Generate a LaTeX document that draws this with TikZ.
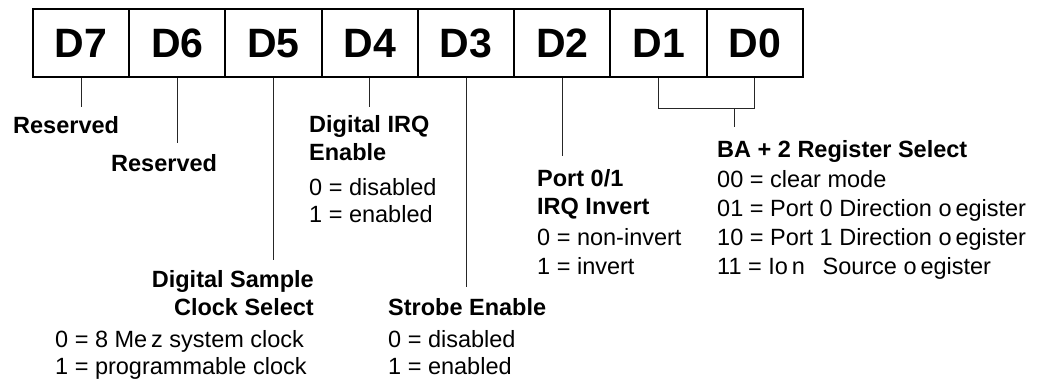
\documentclass[tikz,border=0pt]{standalone}
\usepackage{fontspec}
\setmainfont{Liberation Sans}
\usepackage{tikz}
\usetikzlibrary{positioning,calc}

\begin{document}
\begin{tikzpicture}[x=1pt, y=-1pt,
  bitcell/.style={draw, line width=2pt, minimum width=96.25pt, minimum height=68pt,
    inner sep=0pt, text height=29.5pt, text depth=0pt,
    font=\fontsize{41}{41}\selectfont\bfseries},
  leader/.style={line width=1pt, black!85},
  headtext/.style={inner sep=0pt, anchor=base west, align=left,
    font=\fontsize{23.5}{28}\selectfont\bfseries},
  valtext/.style={inner sep=0pt, anchor=base west, align=left,
    font=\fontsize{23.5}{27}\selectfont}]
\useasboundingbox (0,0) rectangle (1041,381);
% register cells
\foreach \b [count=\i from 0] in {7,6,5,4,3,2,1,0}
  \node[bitcell] (d\b) at (81.1+96.25*\i, 43) {D\b};
% leader ends
\coordinate (e7) at (d7.south |- 0,107);
\coordinate (e6) at (d6.south |- 0,143);
\coordinate (e5) at (d5.south |- 0,260);
\coordinate (e4) at (d4.south |- 0,107);
\coordinate (e3) at (d3.south |- 0,287);
\coordinate (e2) at (d2.south |- 0,156);
\coordinate (j1) at (d1.south |- 0,108);
\coordinate (j0) at (d0.south |- 0,108);
\coordinate (sel) at (734,127);
\draw[leader] (d7.south) -- (e7);
\draw[leader] (d6.south) -- (e6);
\draw[leader] (d5.south) -- (e5);
\draw[leader] (d4.south) -- (e4);
\draw[leader] (d3.south) -- (e3);
\draw[leader] (d2.south) -- (e2);
\draw[leader] (d1.south) -- (j1) -- (j0) -- (d0.south);
\draw[leader] (sel |- j0) -- (sel);
% bit descriptions (base = last line)
\node[headtext] (res7) at (13,133) {Reserved};
\node[headtext] (res6) at (111,171) {Reserved};
\node[headtext] (irqh) at (309,160) {Digital IRQ\\Enable};
\node[valtext]  (irqv) at (309,222) {0 = disabled\\1 = enabled};
\node[headtext, anchor=base east, align=right] (clkh) at (314,315) {Digital Sample\\Clock Select};
\node[valtext]  (clkv) at (55,374) {0 = 8 Me\,z system clock\\1 = programmable clock};
\node[headtext] (stbh) at (388,315) {Strobe Enable};
\node[valtext]  (stbv) at (388,374) {0 = disabled\\1 = enabled};
\node[headtext] (invh) at (537,214) {Port 0/1\\IRQ Invert};
\node[valtext, font=\fontsize{23.5}{29}\selectfont] (invv) at (537,274) {0 = non-invert\\1 = invert};
\node[headtext] (regh) at (717,157) {BA + 2 Register Select};
\node[valtext, font=\fontsize{23.5}{29}\selectfont] (regv) at (717,274)
  {00 = clear mode\\01 = Port 0 Direction o\,egister\\10 = Port 1 Direction o\,egister\\11 = Io\,n\hspace{0.75em}Source o\,egister};
\end{tikzpicture}
\end{document}
